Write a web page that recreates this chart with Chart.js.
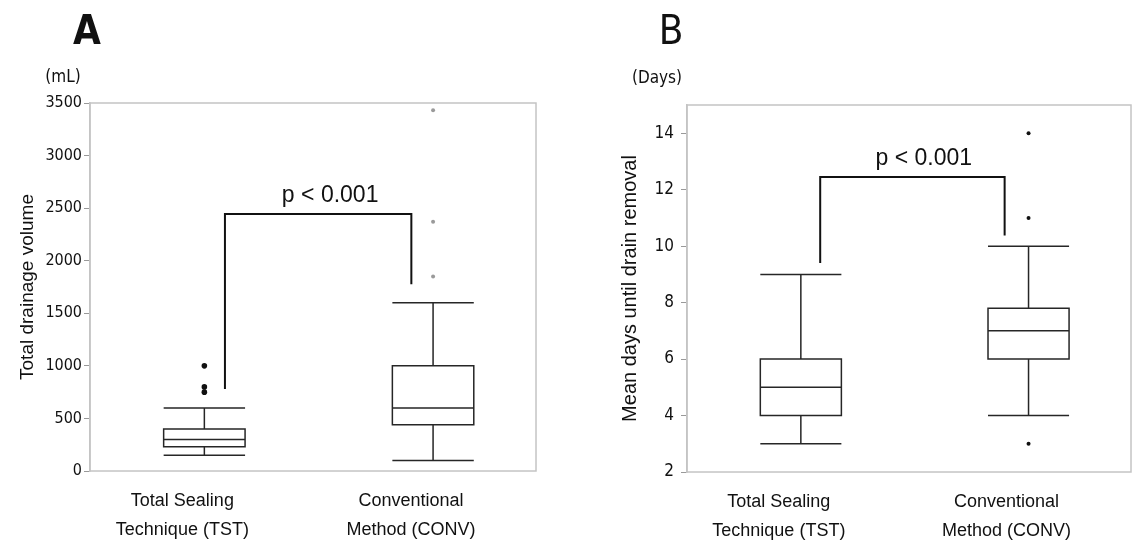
<!DOCTYPE html>
<html>
<head>
<meta charset="utf-8">
<script src="https://cdn.jsdelivr.net/npm/chart.js@4.4.1/dist/chart.umd.min.js"></script>
<style>
  html, body { margin: 0; padding: 0; background: #fff; }
  #wrap { position: relative; width: 1135px; height: 558px; overflow: hidden; background:#fff; }
  canvas { position: absolute; top: 0; }
  .hdr { position: absolute; transform: translate(-50%, -50%); white-space: nowrap; color: #111; line-height: 1; }
</style>
</head>
<body>
<div id="wrap">
  <canvas id="cA" width="560" height="558" style="left:0"></canvas>
  <canvas id="cB" width="575" height="558" style="left:560px"></canvas>
  <div class="hdr" style="left:87px; top:30px; font:bold 40px 'Liberation Sans Narrow','DejaVu Sans Condensed',sans-serif;">A</div>
  <div class="hdr" style="left:63px; top:76px; font:17px 'Liberation Sans Narrow','DejaVu Sans Condensed',sans-serif;">(mL)</div>
  <div class="hdr" style="left:671px; top:30px; font:40px 'Liberation Sans Narrow','DejaVu Sans Condensed',sans-serif;">B</div>
  <div class="hdr" style="left:657px; top:77px; font:17px 'Liberation Sans Narrow','DejaVu Sans Condensed',sans-serif;">(Days)</div>
</div>
<script>
// ---------- data ----------
const CATEGORIES = [["Total Sealing", "Technique (TST)"], ["Conventional", "Method (CONV)"]];

// Panel A: total drainage volume (mL)
const A_TICKS = [0, 500, 1000, 1500, 2000, 2500, 3000, 3500];
const A_MIN = [150, 100];
const A_Q1  = [230, 440];
const A_MED = [300, 600];
const A_Q3  = [400, 1000];
const A_MAX = [600, 1600];
const A_OUT_TST  = [1000, 800, 750];
const A_OUT_CONV = [1850, 2370, 3430];
const A_BRACKET_X = [1.09, 1.905];        // left, right leg positions
const A_BRACKET_Y = [780, 2445, 1775];    // left leg bottom, top, right leg bottom
const A_PTEXT_X = 1.55;

// Panel B: mean days until drain removal
const B_TICKS = [2, 4, 6, 8, 10, 12, 14];
const B_MIN = [3, 4];
const B_Q1  = [4, 6];
const B_MED = [5, 7];
const B_Q3  = [6, 7.8];
const B_MAX = [9, 10];
const B_OUT_TST  = [];
const B_OUT_CONV = [14, 11, 3];
const B_BRACKET_X = [1.085, 1.895];
const B_BRACKET_Y = [9.4, 12.45, 10.38];
const B_PTEXT_X = 1.54;

const P_TEXT = "p < 0.001";

// ---------- helpers ----------
function boxPlugin(spec) {
  return {
    id: 'boxes',
    beforeDatasetsDraw(chart) {
      const { ctx, chartArea: ca, scales: { x, y } } = chart;
      ctx.save();
      // frame
      ctx.strokeStyle = '#c4c4c4';
      ctx.lineWidth = 1.5;
      ctx.strokeRect(ca.left, ca.top, ca.right - ca.left, ca.bottom - ca.top);
      // boxes
      ctx.strokeStyle = '#262626';
      ctx.lineWidth = 1.5;
      const py = v => y.getPixelForValue(v);
      spec.min.forEach((_, i) => {
        const c = i + 1;
        const xc = x.getPixelForValue(c);
        const xl = x.getPixelForValue(c - spec.half);
        const xr = x.getPixelForValue(c + spec.half);
        ctx.beginPath();
        ctx.moveTo(xc, py(spec.max[i])); ctx.lineTo(xc, py(spec.q3[i]));
        ctx.moveTo(xc, py(spec.q1[i])); ctx.lineTo(xc, py(spec.min[i]));
        ctx.moveTo(xl, py(spec.max[i])); ctx.lineTo(xr, py(spec.max[i]));
        ctx.moveTo(xl, py(spec.min[i])); ctx.lineTo(xr, py(spec.min[i]));
        ctx.moveTo(xl, py(spec.med[i])); ctx.lineTo(xr, py(spec.med[i]));
        ctx.rect(xl, py(spec.q3[i]), xr - xl, py(spec.q1[i]) - py(spec.q3[i]));
        ctx.stroke();
      });
      // significance bracket
      const bx1 = x.getPixelForValue(spec.bx[0]);
      const bx2 = x.getPixelForValue(spec.bx[1]);
      ctx.strokeStyle = '#111';
      ctx.lineWidth = 2;
      ctx.beginPath();
      ctx.moveTo(bx1, py(spec.by[0]));
      ctx.lineTo(bx1, py(spec.by[1]));
      ctx.lineTo(bx2, py(spec.by[1]));
      ctx.lineTo(bx2, py(spec.by[2]));
      ctx.stroke();
      ctx.fillStyle = '#111';
      ctx.font = "23px 'Liberation Sans', Arial, sans-serif";
      ctx.textAlign = 'center';
      ctx.textBaseline = 'alphabetic';
      ctx.fillText(spec.ptext, x.getPixelForValue(spec.ptx), py(spec.by[1]) - 12);
      ctx.restore();
    }
  };
}

function makeChart(canvasId, cfg) {
  const pts = (arr, c) => arr.map(v => ({ x: c, y: v }));
  new Chart(document.getElementById(canvasId), {
    type: 'scatter',
    data: {
      datasets: [
        { data: pts(cfg.out1, 1), pointRadius: cfg.r1, backgroundColor: cfg.c1, borderWidth: 0 },
        { data: pts(cfg.out2, 2), pointRadius: cfg.r2, backgroundColor: cfg.c2, borderWidth: 0 }
      ]
    },
    options: {
      responsive: false,
      animation: false,
      events: [],
      layout: { padding: { top: cfg.padTop, right: cfg.padRight, left: 0, bottom: 0 } },
      plugins: { legend: { display: false }, tooltip: { enabled: false } },
      scales: {
        x: {
          type: 'linear',
          min: 0.5,
          max: 2.45,
          afterBuildTicks: s => { s.ticks = [{ value: 1 }, { value: 2 }]; },
          afterFit: s => { s.height = cfg.xHeight; },
          grid: { display: false, drawTicks: false },
          border: { display: false },
          ticks: {
            callback: v => CATEGORIES[Math.round(v) - 1],
            font: { family: "'Liberation Sans', Arial, sans-serif", size: 18, lineHeight: 1.6 },
            color: '#111',
            padding: 16,
            labelOffset: -22,
            maxRotation: 0,
            autoSkip: false
          }
        },
        y: {
          type: 'linear',
          min: cfg.yMin,
          max: cfg.yMax,
          afterBuildTicks: s => { s.ticks = cfg.ticks.map(v => ({ value: v })); },
          afterFit: s => { s.width = cfg.yWidth; },
          grid: { drawOnChartArea: false, drawTicks: true, tickLength: 6, color: '#999', lineWidth: 1 },
          border: { display: true, color: '#c4c4c4', width: 1.5 },
          ticks: {
            callback: v => String(v),
            font: { family: "'Liberation Sans Narrow', 'DejaVu Sans Condensed', sans-serif", size: cfg.tickSize },
            color: '#111',
            padding: cfg.tickPad
          },
          title: {
            display: true,
            text: cfg.title,
            font: { family: "'Liberation Sans', Arial, sans-serif", size: cfg.titleSize },
            color: '#111',
            padding: { top: cfg.titlePad, bottom: 0 }
          }
        }
      }
    },
    plugins: [boxPlugin({
      min: cfg.min, q1: cfg.q1, med: cfg.med, q3: cfg.q3, max: cfg.max,
      half: 0.178, bx: cfg.bx, by: cfg.by, ptx: cfg.ptx, ptext: P_TEXT
    })]
  });
}

makeChart('cA', {
  out1: A_OUT_TST, out2: A_OUT_CONV, r1: 2.8, r2: 2, c1: '#111', c2: '#9a9a9a',
  min: A_MIN, q1: A_Q1, med: A_MED, q3: A_Q3, max: A_MAX,
  bx: A_BRACKET_X, by: A_BRACKET_Y, ptx: A_PTEXT_X,
  yMin: 0, yMax: 3500, ticks: A_TICKS, tickSize: 16,
  padTop: 103, padRight: 24, xHeight: 87, yWidth: 90, tickPad: 2,
  title: 'Total drainage volume', titleSize: 19, titlePad: 16
});

makeChart('cB', {
  out1: B_OUT_TST, out2: B_OUT_CONV, r1: 2, r2: 2, c1: '#111', c2: '#111',
  min: B_MIN, q1: B_Q1, med: B_MED, q3: B_Q3, max: B_MAX,
  bx: B_BRACKET_X, by: B_BRACKET_Y, ptx: B_PTEXT_X,
  yMin: 2, yMax: 15, ticks: B_TICKS, tickSize: 17,
  padTop: 105, padRight: 2, xHeight: 86, yWidth: 127, tickPad: 7,
  title: 'Mean days until drain removal', titleSize: 20, titlePad: 58
});
</script>
</body>
</html>
